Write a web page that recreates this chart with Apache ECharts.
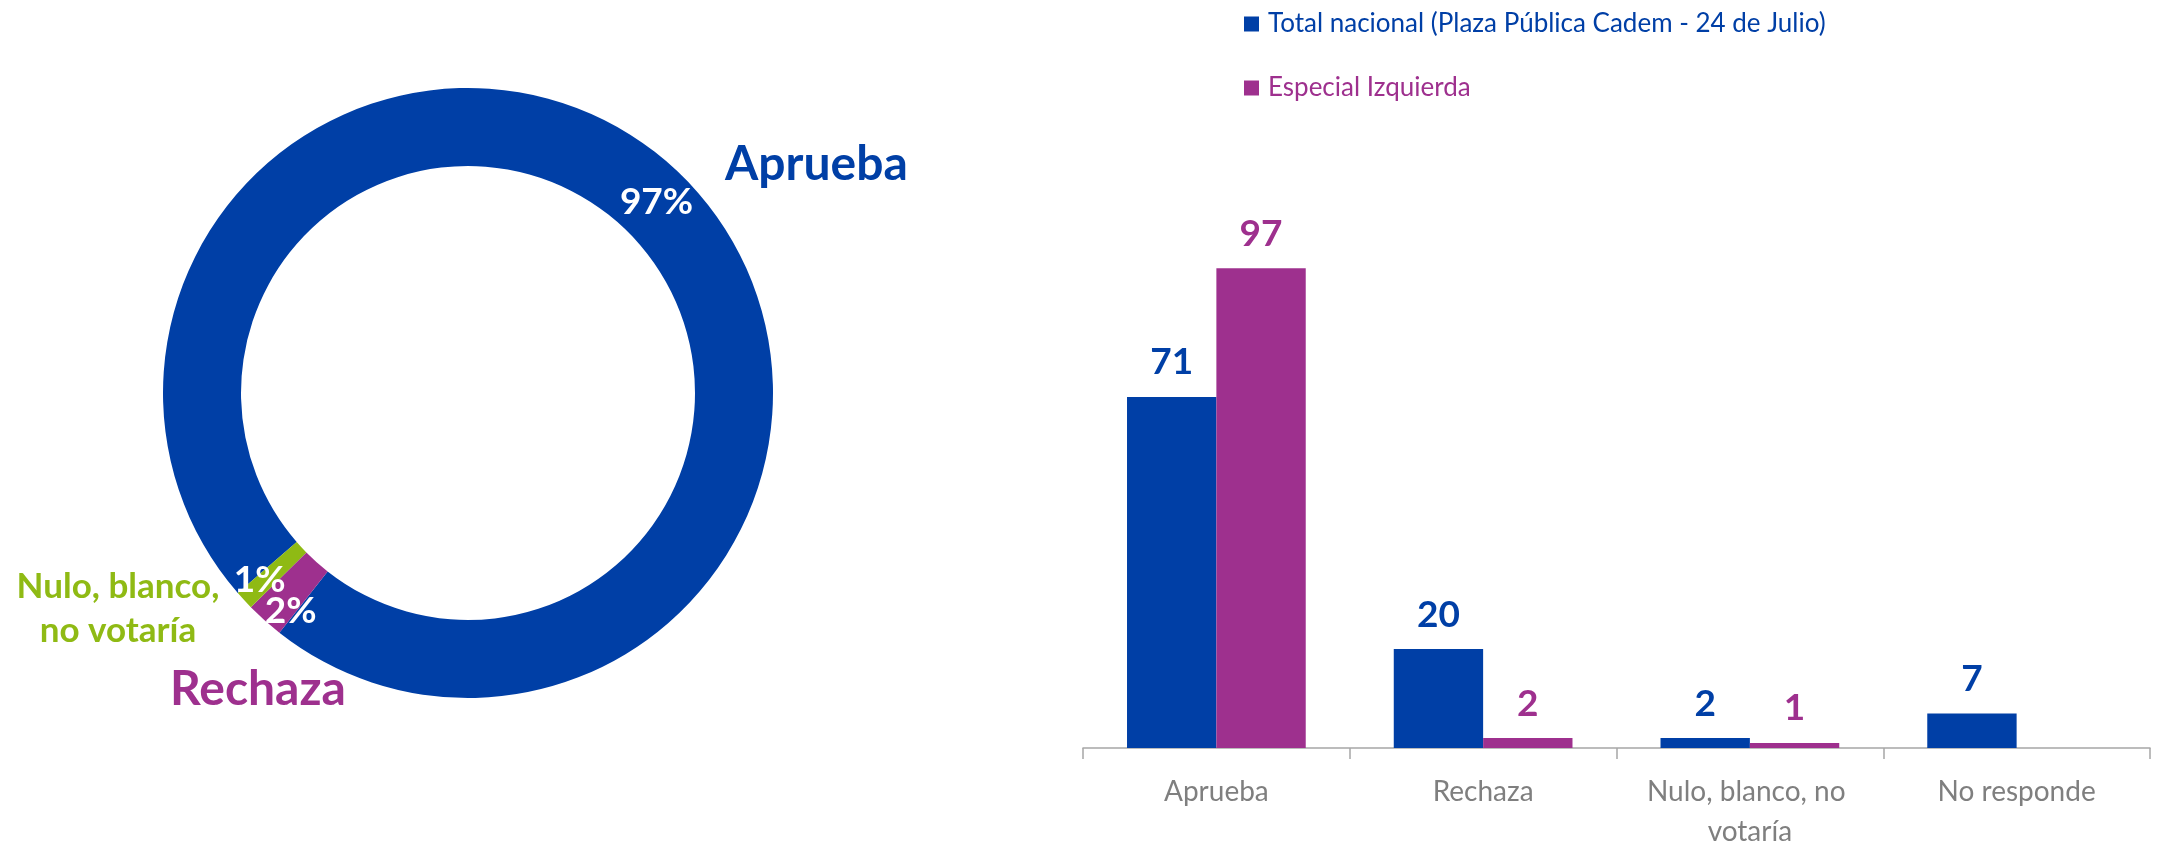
<!DOCTYPE html>
<html>
<head>
<meta charset="utf-8">
<script src="https://cdn.jsdelivr.net/npm/echarts@6/dist/echarts.min.js"></script>
<style>
  html, body { margin: 0; padding: 0; background: #fff; }
  #main { width: 2157px; height: 844px; }
</style>
</head>
<body>
<div id="main"></div>
<script>
// donut: especial izquierda
var donutNames = ['Aprueba', 'Rechaza', 'Nulo, blanco,\nno votaría'];
var donutValues = [97, 2, 1];

// barras
var categories = ['Aprueba', 'Rechaza', 'Nulo, blanco, no votaría', 'No responde'];
var totalNacional = [71, 20, 2, 7];
var especialIzq = [97, 2, 1, null];
var seriesNames = ['Total nacional (Plaza Pública Cadem - 24 de Julio)', 'Especial Izquierda'];

var BLUE = '#003FA6';
var PURPLE = '#9E308E';
var GREEN = '#8FBA14';
var FONT = 'Lato';

// small nudges of the % labels, as in the original
var pctNudge = [[3, 4], [2, 18], [-11, 4]];

var myChart = echarts.init(document.getElementById('main'));

var option = {
    backgroundColor: '#fff',
    animation: false,
    textStyle: { fontFamily: FONT },
    legend: {
        orient: 'vertical',
        left: 1239,
        top: 6,
        icon: 'rect',
        itemWidth: 15,
        itemHeight: 15,
        itemGap: 38,
        textStyle: { fontSize: 26, fontFamily: FONT, padding: [0, 0, 0, 4] },
        data: [
            { name: seriesNames[0], textStyle: { color: BLUE } },
            { name: seriesNames[1], textStyle: { color: PURPLE } }
        ]
    },
    grid: {
        left: 1083,
        right: 7,
        top: 253.5,
        bottom: 96,
        containLabel: false,
        outerBoundsMode: 'none'
    },
    xAxis: {
        type: 'category',
        data: categories,
        axisLine: { show: true, lineStyle: { color: '#A6A6A6', width: 1.5 } },
        axisTick: { show: true, alignWithLabel: false, length: 11, lineStyle: { color: '#A6A6A6', width: 1.5 } },
        axisLabel: {
            color: '#7F7F7F',
            fontSize: 28,
            fontFamily: FONT,
            margin: 24,
            lineHeight: 40,
            width: 240,
            overflow: 'break',
            interval: 0
        }
    },
    yAxis: {
        type: 'value',
        min: 0,
        max: 100,
        show: false,
        splitLine: { show: false }
    },
    series: [
        {
            type: 'pie',
            center: [468, 393],
            radius: [227, 305],
            startAngle: 221,
            clockwise: true,
            silent: true,
            avoidLabelOverlap: false,
            minShowLabelAngle: 0,
            label: {
                show: true,
                position: 'inside',
                color: '#fff',
                fontSize: 37,
                fontWeight: 'bold',
                fontFamily: FONT,
                formatter: '{c}%'
            },
            labelLine: { show: false },
            labelLayout: function (p) {
                var n = pctNudge[p.dataIndex];
                return { dx: n[0], dy: n[1], hideOverlap: false };
            },
            data: donutNames.map(function (n, i) {
                return {
                    name: n,
                    value: donutValues[i],
                    itemStyle: { color: [BLUE, PURPLE, GREEN][i] }
                };
            })
        },
        {
            name: seriesNames[0],
            type: 'bar',
            data: totalNacional,
            barGap: '0%',
            barCategoryGap: '33%',
            itemStyle: { color: BLUE },
            label: {
                show: true,
                position: 'top',
                distance: 16,
                color: BLUE,
                fontSize: 37,
                fontWeight: 'bold',
                fontFamily: FONT
            }
        },
        {
            name: seriesNames[1],
            type: 'bar',
            data: especialIzq,
            barGap: '0%',
            barCategoryGap: '33%',
            itemStyle: { color: PURPLE },
            label: {
                show: true,
                position: 'top',
                distance: 16,
                color: PURPLE,
                fontSize: 37,
                fontWeight: 'bold',
                fontFamily: FONT
            }
        }
    ],
    graphic: [
        {
            type: 'text', left: 725, top: 165 - 24,
            style: { text: donutNames[0], fill: BLUE, font: 'bold 48px Lato' }
        },
        {
            type: 'text', left: 170, top: 690 - 24,
            style: { text: donutNames[1], fill: PURPLE, font: 'bold 48px Lato' }
        },
        {
            type: 'text', x: 118, y: 609,
            style: {
                text: donutNames[2], fill: GREEN, font: 'bold 35px Lato',
                align: 'center', verticalAlign: 'middle', lineHeight: 44
            }
        }
    ]
};

myChart.setOption(option);
</script>
</body>
</html>
